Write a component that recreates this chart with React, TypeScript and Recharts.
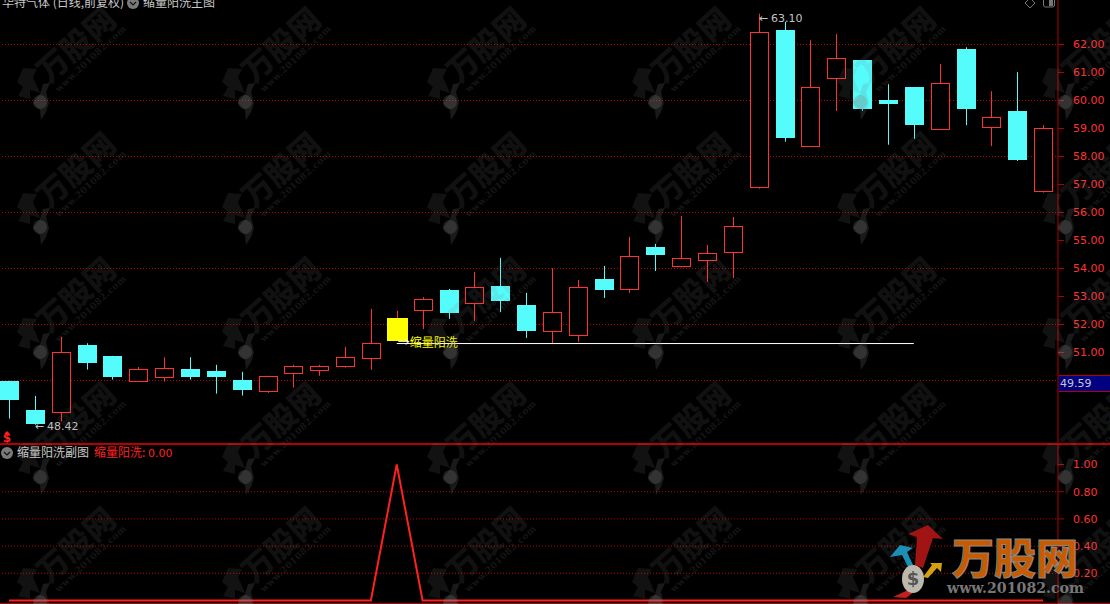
import { ComposedChart, Bar, Line, XAxis, YAxis, CartesianGrid, ReferenceLine, ReferenceDot } from 'recharts';

const highs = [49.99, 49.45, 51.56, 51.33, 50.88, 50.48, 50.83, 50.83, 50.56, 50.31, 50.16, 50.56, 50.56, 51.2, 52.56, 52.49, 52.98, 53.27, 53.88, 54.38, 53.13, 54.01, 53.59, 54.09, 55.13, 54.88, 55.87, 54.84, 55.84, 63.1, 62.81, 62.15, 62.37, 61.44, 60.58, 60.48, 61.3, 61.9, 60.33, 61.01, 59.12];
const opens = [49.99, 48.95, 48.89, 51.27, 50.88, 49.98, 50.14, 50.42, 50.34, 50.02, 49.61, 50.28, 50.39, 50.5, 50.82, 51.42, 52.5, 53.23, 52.78, 53.38, 52.7, 51.75, 51.62, 53.63, 53.25, 54.77, 54.1, 54.31, 54.58, 56.92, 62.51, 58.36, 60.81, 61.44, 60.01, 60.48, 58.99, 61.83, 59.06, 59.62, 56.78];
const closes = [49.29, 48.45, 51.01, 50.63, 50.13, 50.41, 50.44, 50.13, 50.13, 49.67, 50.16, 50.51, 50.51, 50.83, 51.33, 52.24, 52.9, 52.41, 53.33, 52.84, 51.77, 52.44, 53.33, 53.23, 54.44, 54.48, 54.37, 54.54, 55.51, 62.46, 58.67, 60.47, 61.5, 59.69, 59.87, 59.12, 60.61, 59.69, 59.4, 57.87, 59.0];
const lows = [48.64, 48.42, 48.54, 50.39, 50.03, 49.98, 49.96, 50.03, 49.53, 49.46, 49.56, 49.75, 50.17, 50.46, 50.38, 51.42, 51.84, 52.2, 52.13, 52.45, 51.52, 51.33, 51.38, 52.95, 53.13, 53.91, 54.05, 53.52, 53.66, 56.85, 58.53, 58.36, 59.63, 59.63, 58.42, 58.63, 58.95, 59.12, 58.37, 57.84, 56.71];
const signals = [0, 0, 0, 0, 0, 0, 0, 0, 0, 0, 0, 0, 0, 0, 0, 1, 0, 0, 0, 0, 0, 0, 0, 0, 0, 0, 0, 0, 0, 0, 0, 0, 0, 0, 0, 0, 0, 0, 0, 0, 0];

const priceTicks = [51, 52, 53, 54, 55, 56, 57, 58, 59, 60, 61, 62];
const priceGrid = [50, 52, 54, 56, 58, 60, 62];
const signalTicks = [0.2, 0.4, 0.6, 0.8, 1];
const signalGrid = [0.2, 0.4, 0.6, 0.8];

const signalDay = 15;
const supportEndDay = 35;
const supportPrice = 51.32;

const rows = highs.map((high, i) => ({
  day: i,
  high,
  open: opens[i],
  close: closes[i],
  low: lows[i],
  signal: signals[i],
}));

const RED = '#ff3232';
const CYAN = '#54fcfc';
const DARK_RED = '#b40000';
const GRID_RED = '#c00000';
const AXIS_FONT = '"DejaVu Sans", sans-serif';
const CJK_FONT = '"Noto Sans CJK SC", sans-serif';

const Candle = (props: any) => {
  const { x, y, width, height, payload } = props;
  const pxPerPrice = height / (payload.high - payload.low);
  const toY = (price: number) => y + (payload.high - price) * pxPerPrice;
  const mid = Math.round(x + width / 2) + 0.5;
  const isUp = payload.close >= payload.open;
  const isSignal = payload.signal === 1;
  const top = Math.round(toY(Math.max(payload.open, payload.close)));
  const bottom = Math.round(toY(Math.min(payload.open, payload.close)));
  const wickColor = isUp ? RED : CYAN;
  return (
    <g>
      <line x1={mid} x2={mid} y1={toY(payload.high)} y2={toY(payload.low)} stroke={wickColor} strokeWidth={1} />
      {isSignal ? (
        <rect x={mid - 10.5} y={top} width={21} height={bottom - top} fill="#ffff00" />
      ) : isUp ? (
        <rect x={mid - 9} y={top + 0.5} width={18} height={bottom - top} fill="#000" stroke={RED} strokeWidth={1} />
      ) : (
        <rect x={mid - 9.5} y={top} width={19} height={Math.max(bottom - top, 1)} fill={CYAN} />
      )}
    </g>
  );
};

const extremeLabel = (text: string, dy: number) => (props: any) => (
  <text x={props.viewBox.x} y={props.viewBox.y + dy} fill="#c4c4c4" fontSize={11} fontFamily={AXIS_FONT}>
    <tspan>←</tspan>
    <tspan dx={3}>{text}</tspan>
  </text>
);

const signalLabel = (props: any) => (
  <text x={props.viewBox.x + 1} y={props.viewBox.y + 3} fontSize={12} fontFamily={CJK_FONT}>
    <tspan fill="#fff">→</tspan>
    <tspan fill="#ffff00">缩量阳洗</tspan>
  </text>
);

const axisTick = { fill: RED, fontSize: 11, fontFamily: AXIS_FONT, textAnchor: 'start' };

const Watermark = ({ x, y }: { x: number; y: number }) => (
  <g transform={`translate(${x} ${y})`}>
    <text
      transform="translate(78 47) rotate(-42)"
      textAnchor="middle"
      dominantBaseline="middle"
      fontSize={31}
      fontWeight={900}
      fontFamily={CJK_FONT}
      fill="#808080"
      opacity={0.13}
    >
      万股网
    </text>
    <text
      transform="translate(91 59) rotate(-43)"
      textAnchor="middle"
      dominantBaseline="middle"
      fontSize={9}
      fontWeight={700}
      letterSpacing={0.4}
      fontFamily='"DejaVu Serif", serif'
      fill="#808080"
      opacity={0.16}
    >
      www.201082.com
    </text>
    <polygon points="17,82 23,68 37,69 33,77 40,93 30,90 30,99 18,96 23,87" fill="#808080" opacity={0.14} />
    <polygon points="43,84 50,83 46,92 49,103 46,112 41,120 40,110 33,103 40,94" fill="#808080" opacity={0.2} />
    <circle cx={40} cy={102} r={7} fill="#808080" opacity={0.25} />
  </g>
);

const watermarkCols = [0, 1, 2, 3, 4, 5];
const watermarkRows = [-1, 0, 1, 2, 3, 4];

const Overlay = () => (
  <svg width={1110} height={604} style={{ position: 'absolute', left: 0, top: 0, pointerEvents: 'none' }}>
    {watermarkRows.map((r) =>
      watermarkCols.map((c) => <Watermark key={`${r}-${c}`} x={c * 205} y={r * 125} />)
    )}

    {/* header rows, the top one is cut by the window */}
    <text x={2} y={7} fill="#c8c8c8" fontSize={12} fontFamily={CJK_FONT}>华特气体 (日线,前复权)</text>
    <circle cx={133} cy={3} r={6} fill="#7a7a7a" />
    <path d="M130 2 L133 5 L136 2" stroke="#111" strokeWidth={1.2} fill="none" />
    <text x={143} y={7} fill="#c8c8c8" fontSize={12} fontFamily={CJK_FONT}>缩量阳洗主图</text>
    <path d="M1030 -2 L1035 3 L1030 8 L1025 3 Z" stroke="#777" fill="none" />
    <rect x={1043.5} y={-3} width={11} height={10} rx={2} stroke="#777" fill="none" />
    <rect x={1049} y={-2} width={4} height={8} fill="#777" />

    <text x={7} y={442} fill="#ff2020" fontSize={12} fontWeight={700} fontFamily={AXIS_FONT} textAnchor="middle">$</text>
    <polygon points="7,431 10,434 4,434" fill="#ff2020" />

    <circle cx={7} cy={453} r={6} fill="#7a7a7a" />
    <path d="M4 452 L7 455 L10 452" stroke="#111" strokeWidth={1.2} fill="none" />
    <text x={17} y={457} fill="#c8c8c8" fontSize={12} fontFamily={CJK_FONT}>缩量阳洗副图</text>
    <text x={94} y={457} fill="#ff2020" fontSize={12} fontFamily={CJK_FONT}>缩量阳洗:</text>
    <text x={148} y={457} fill="#ff2020" fontSize={11} fontFamily={AXIS_FONT}>0.00</text>

    {/* site logo in the corner */}
    <polygon points="908,534 928,525 943,539 933,538 923,568 915,565 917,537" fill="#a01414" />
    <polygon points="890,557 900,545 913,548 907,552 913,565 908,567 902,555" fill="#1b8fb5" />
    <polygon points="923,577 932,565 930,563 942,563 941,572 937,568 928,578" fill="#d2a010" />
    <polygon points="893,597 908,590 914,592 906,598" fill="#c02020" />
    <ellipse cx={913} cy={579} rx={11} ry={14} fill="#bdb8ae" />
    <text x={913} y={585} textAnchor="middle" fontSize={18} fontWeight={700} fill="#555" fontFamily={AXIS_FONT}>$</text>
    <text
      x={952}
      y={574}
      fontSize={42}
      fontWeight={900}
      fontFamily={CJK_FONT}
      fill="#c85a00"
      stroke="#8a8a8a"
      strokeWidth={1}
      textLength={126}
      lengthAdjust="spacingAndGlyphs"
    >
      万股网
    </text>
    <text
      x={947}
      y={593}
      fontSize={14}
      fontWeight={700}
      fontFamily='"DejaVu Serif", serif'
      fill="#777"
      textLength={137}
      lengthAdjust="spacingAndGlyphs"
    >
      www.201082.com
    </text>
  </svg>
);

export default function App() {
  return (
    <div style={{ position: 'fixed', left: 0, top: 0, width: 1110, height: 604, background: '#000', overflow: 'hidden' }}>
      <div style={{ position: 'absolute', left: -4, top: 0 }}>
        <ComposedChart width={1114} height={444} data={rows} margin={{ top: 0, right: 0, bottom: 0, left: 0 }} barCategoryGap={0}>
          <CartesianGrid vertical={false} horizontalValues={priceGrid} stroke={GRID_RED} strokeDasharray="1 2" />
          <XAxis dataKey="day" type="category" hide padding={{ left: 0, right: 2 }} />
          <YAxis
            orientation="right"
            width={52}
            domain={[47.732, 63.589]}
            ticks={priceTicks}
            interval={0}
            allowDataOverflow
            tickFormatter={(v: number) => v.toFixed(2)}
            axisLine={{ stroke: DARK_RED }}
            tickLine={{ stroke: DARK_RED }}
            tickSize={6}
            tickMargin={9}
            tick={axisTick}
          />
          <Bar dataKey={(row: any) => [row.low, row.high]} shape={<Candle />} isAnimationActive={false} />
          <ReferenceLine
            segment={[
              { x: signalDay, y: supportPrice },
              { x: supportEndDay, y: supportPrice },
            ]}
            stroke="#fff"
            strokeWidth={1}
          />
          <ReferenceDot x={1} y={48.42} r={0} stroke="none" label={extremeLabel('48.42', 5)} />
          <ReferenceDot x={29} y={63.1} r={0} stroke="none" label={extremeLabel('63.10', 8)} />
          <ReferenceDot x={signalDay} y={supportPrice} r={0} stroke="none" label={signalLabel} />
        </ComposedChart>
      </div>

      <div style={{ position: 'absolute', left: -4, top: 445 }}>
        <ComposedChart width={1114} height={159} data={rows} margin={{ top: 0, right: 0, bottom: 0, left: 0 }}>
          <CartesianGrid vertical={false} horizontalValues={signalGrid} stroke={GRID_RED} strokeDasharray="1 2" />
          <XAxis dataKey="day" type="category" scale="band" hide padding={{ left: 0, right: 2 }} />
          <YAxis
            orientation="right"
            width={52}
            domain={[-0.0257, 1.1434]}
            ticks={signalTicks}
            interval={0}
            allowDataOverflow
            tickFormatter={(v: number) => v.toFixed(2)}
            axisLine={{ stroke: DARK_RED }}
            tickLine={{ stroke: DARK_RED }}
            tickSize={6}
            tickMargin={9}
            tick={axisTick}
          />
          <Line type="linear" dataKey="signal" stroke="#ff2020" strokeWidth={2} dot={false} isAnimationActive={false} />
        </ComposedChart>
      </div>

      {/* pane separators and the last price box */}
      <div style={{ position: 'absolute', left: 0, top: 443, width: 1110, height: 2, background: DARK_RED }} />
      <div style={{ position: 'absolute', left: 0, top: 603, width: 1110, height: 1, background: DARK_RED }} />
      <div
        style={{
          position: 'absolute',
          left: 1059,
          top: 375,
          width: 51,
          height: 15,
          background: '#000080',
          borderTop: `1px solid ${DARK_RED}`,
          borderBottom: `1px solid ${DARK_RED}`,
          color: '#c8c8c8',
          font: `11px ${AXIS_FONT}`,
          lineHeight: '15px',
          paddingLeft: 1,
          boxSizing: 'content-box',
        }}
      >
        49.59
      </div>

      <Overlay />
    </div>
  );
}
